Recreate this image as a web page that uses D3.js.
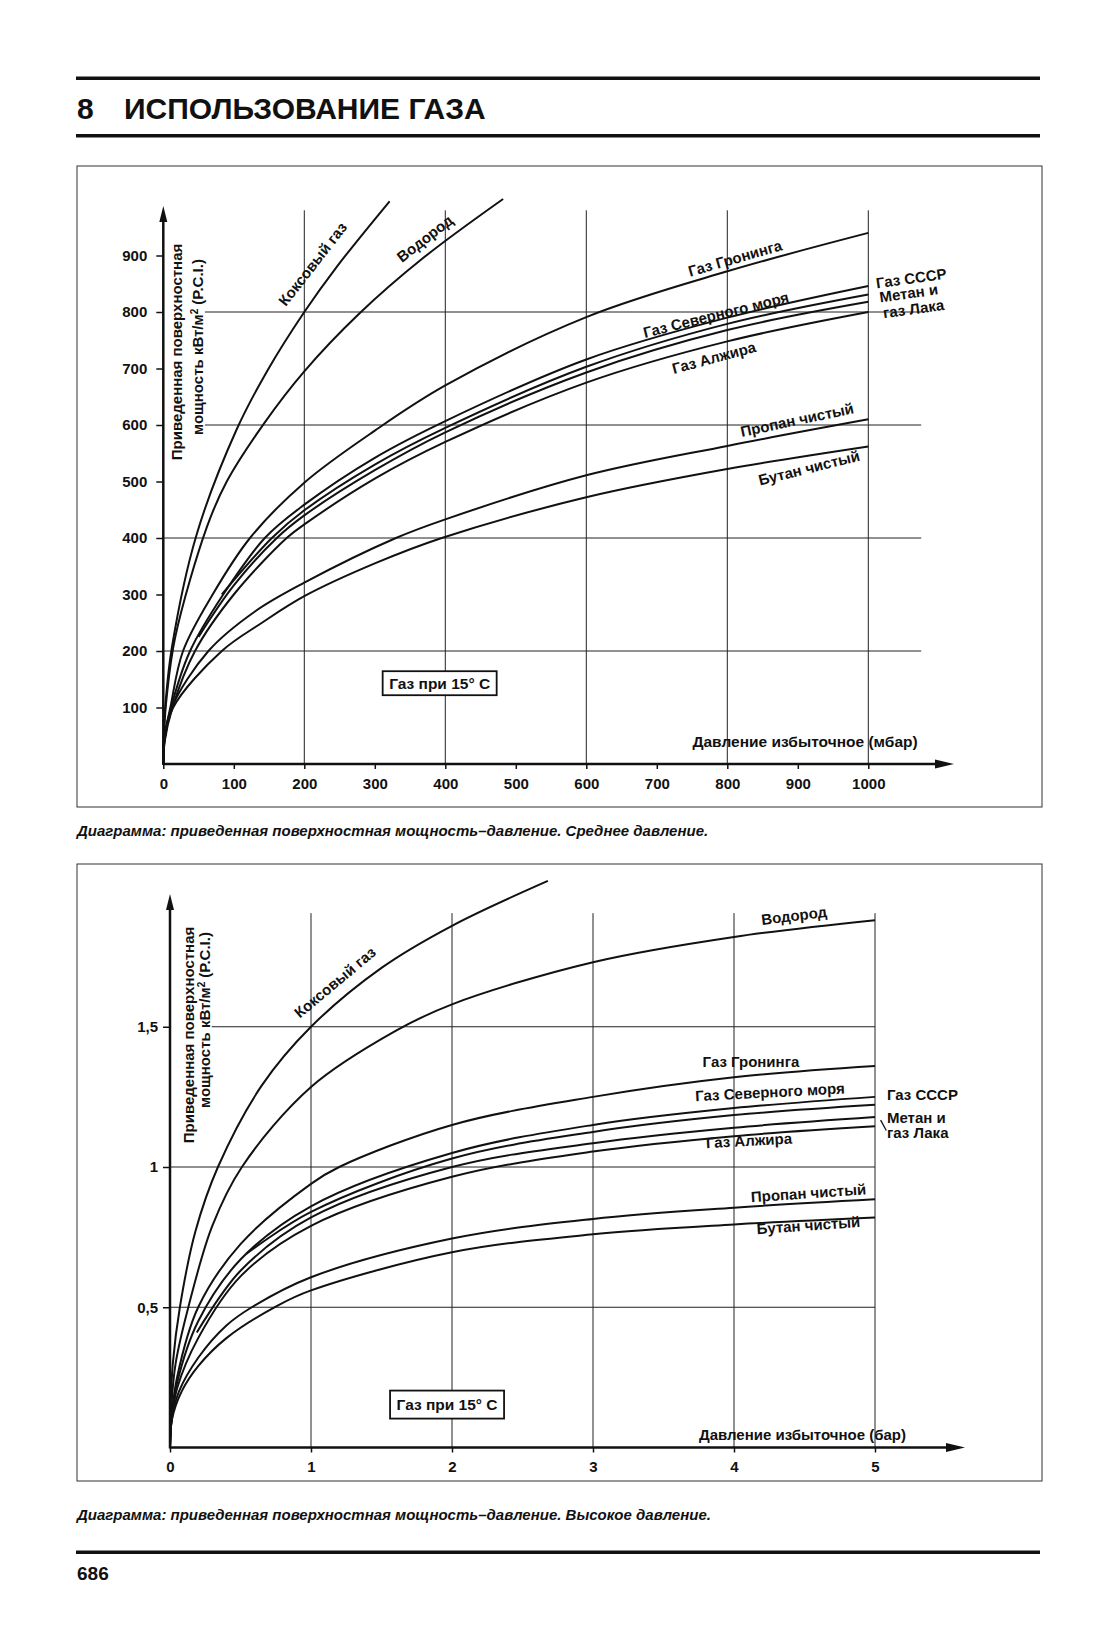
<!DOCTYPE html>
<html>
<head>
<meta charset="UTF-8">
<title>Приведенная поверхностная мощность – давление</title>
<style>
    body { margin: 0; background: #fff; }
    svg { font-family: "Liberation Sans", Arial, sans-serif; }
    .curve { fill: none; stroke: #111; stroke-width: 2px; }
    .grid { stroke: #222; stroke-width: 1px; }
    .box { fill: none; stroke: #333; stroke-width: 1px; }
    .lbl { font-size: 15px; font-weight: bold; fill: #111; }
    .tick text { font-size: 15px; font-weight: bold; fill: #111; font-family: "Liberation Sans", Arial, sans-serif; }
    .tick line { stroke: #111; stroke-width: 1.5px; }
</style>
</head>
<body>
<svg width="1116" height="1644"></svg>
<script src="https://cdn.jsdelivr.net/npm/d3@7"></script>
<script>

    // ---- данные: среднее давление (мбар -> кВт/м2) ----
    var mbarTicks = [0, 100, 200, 300, 400, 500, 600, 700, 800, 900, 1000];
    var mbarGridX = [200, 400, 600, 800, 1000];
    var kwTicks = [100, 200, 300, 400, 500, 600, 700, 800, 900];
    var kwGridY = [200, 400, 600, 800];

    var midCoke = [[0, 0], [1, 62], [3, 105], [12, 205], [47, 405], [104, 592], [148, 697], [200, 800], [246, 880], [321, 996]];
    var midHydrogen = [[0, 0], [1.5, 65], [4.5, 115], [17, 225], [62, 420], [90, 500], [143, 603], [200, 695], [277, 796], [368, 895], [482, 1000]];
    var midGroningen = [[0, 0], [2, 50], [10, 100], [28, 200], [70, 300], [123, 400], [200, 498], [300, 590], [400, 670], [600, 791], [800, 872], [1000, 940]];
    var midUSSR = [[0, 0], [2, 45], [11, 100], [38, 200], [85, 300], [144, 400], [200, 459], [300, 542], [400, 607], [600, 716], [800, 790], [1000, 846]];
    var midNorthSea = [[83, 300], [154, 400], [200, 449], [300, 530], [400, 595], [600, 703], [800, 779], [1000, 831]];
    var midMethane = [[50, 225], [100, 316], [161, 400], [200, 440], [300, 520], [400, 587], [600, 693], [800, 768], [1000, 818]];
    var midAlgeria = [[0, 0], [2, 40], [13, 100], [45, 200], [100, 300], [175, 400], [200, 424], [300, 505], [400, 570], [600, 675], [800, 748], [1000, 800]];
    var midPropane = [[0, 0], [1, 40], [12, 100], [64, 200], [130, 270], [200, 321], [330, 400], [400, 433], [600, 511], [800, 563], [1000, 610]];
    var midButane = [[0, 0], [1.5, 40], [14, 100], [83, 200], [140, 250], [200, 297], [300, 355], [395, 400], [600, 472], [800, 522], [1000, 562]];

    // ---- данные: высокое давление (бар) ----
    var barTicks = [0, 1, 2, 3, 4, 5];
    var barGridX = [1, 2, 3, 4, 5];
    var highTicks = [0.5, 1, 1.5];
    var highTickLabels = ["0,5", "1", "1,5"];
    var highGridY = [0.5, 1, 1.5];

    var highCoke = [[0, 0], [0.005, 0.15], [0.02, 0.3], [0.07, 0.5], [0.18, 0.77], [0.34, 1.0], [0.65, 1.29], [1, 1.5], [1.5, 1.71], [2, 1.86], [2.68, 2.02]];
    var highHydrogen = [[0, 0], [0.01, 0.15], [0.04, 0.3], [0.13, 0.5], [0.3, 0.79], [0.51, 1.0], [1, 1.285], [1.6, 1.485], [2, 1.58], [3, 1.73], [4, 1.82], [5, 1.88]];
    var highGroningen = [[0, 0], [0.01, 0.1], [0.05, 0.25], [0.2, 0.5], [0.5, 0.725], [1, 0.94], [1.2, 1.0], [2, 1.15], [3, 1.25], [4, 1.32], [5, 1.36]];
    var highUSSR = [[0, 0], [0.01, 0.1], [0.05, 0.23], [0.2, 0.45], [0.5, 0.67], [1, 0.86], [2, 1.05], [3, 1.15], [4, 1.21], [5, 1.25]];
    var highNorthSea = [[0.54, 0.69], [1, 0.84], [2, 1.03], [3, 1.125], [4, 1.185], [5, 1.222]];
    var highMethane = [[0.19, 0.41], [0.5, 0.63], [1, 0.82], [2, 1.0], [3, 1.085], [4, 1.14], [5, 1.178]];
    var highAlgeria = [[0, 0], [0.01, 0.09], [0.05, 0.21], [0.2, 0.39], [0.5, 0.61], [1, 0.79], [2, 0.965], [3, 1.055], [4, 1.11], [5, 1.145]];
    var highPropane = [[0, 0], [0.012, 0.1], [0.064, 0.2], [0.2, 0.32], [0.4, 0.435], [0.58, 0.5], [1, 0.607], [2, 0.745], [3, 0.815], [4, 0.855], [5, 0.885]];
    var highButane = [[0, 0], [0.014, 0.1], [0.083, 0.2], [0.2, 0.29], [0.4, 0.39], [0.76, 0.505], [1, 0.56], [2, 0.696], [3, 0.76], [4, 0.795], [5, 0.82]];

    var svg = d3.select("svg");

    // ---- шапка страницы ----
    svg.append("rect").attr("x", 76).attr("y", 76.5).attr("width", 964).attr("height", 3.5).attr("fill", "#111");
    svg.append("rect").attr("x", 76).attr("y", 134).attr("width", 964).attr("height", 3.5).attr("fill", "#111");
    svg.append("text").attr("x", 77).attr("y", 119).attr("font-size", 30).attr("font-weight", "bold").attr("fill", "#111")
        .text("8");
    svg.append("text").attr("x", 124).attr("y", 119).attr("font-size", 30).attr("font-weight", "bold").attr("fill", "#111")
        .text("ИСПОЛЬЗОВАНИЕ ГАЗА");

    function drawPanel(cfg) {
        var g = svg.append("g");
        var x = cfg.x, y = cfg.y;
        var x0 = x(0), y0 = y(0);

        g.append("rect").attr("class", "box")
            .attr("x", cfg.box[0]).attr("y", cfg.box[1]).attr("width", cfg.box[2]).attr("height", cfg.box[3]);

        // сетка
        g.selectAll(".gx").data(cfg.gridX).enter().append("line").attr("class", "grid")
            .attr("x1", function (d) { return x(d); }).attr("x2", function (d) { return x(d); })
            .attr("y1", y(cfg.gridTop)).attr("y2", y0);
        g.selectAll(".gy").data(cfg.gridY).enter().append("line").attr("class", "grid")
            .attr("x1", function (d) { return d >= cfg.gridSkipAbove ? x(cfg.gridLeftHigh) : x0; })
            .attr("x2", x(cfg.gridRight))
            .attr("y1", function (d) { return y(d); }).attr("y2", function (d) { return y(d); });

        // оси
        var ax = g.append("g").attr("transform", "translate(0," + y0 + ")")
            .call(d3.axisBottom(x).tickValues(cfg.xTicks).tickSize(5).tickPadding(9)
                .tickFormat(function (d) { return String(d); }));
        ax.select(".domain").remove();
        var ay = g.append("g").attr("transform", "translate(" + x0 + ",0)")
            .call(d3.axisLeft(y).tickValues(cfg.yTicks).tickSize(7).tickPadding(cfg.yPad)
                .tickFormat(function (d, i) { return cfg.yLabels ? cfg.yLabels[i] : String(d); }));
        ay.select(".domain").remove();

        g.append("line").attr("x1", x0).attr("x2", cfg.xArrow - 16).attr("y1", y0).attr("y2", y0)
            .attr("stroke", "#111").attr("stroke-width", 2.5);
        g.append("path").attr("fill", "#111")
            .attr("d", "M" + cfg.xArrow + "," + y0 + "L" + (cfg.xArrow - 19) + "," + (y0 - 4.5) + "L" + (cfg.xArrow - 19) + "," + (y0 + 4.5) + "Z");
        g.append("line").attr("x1", x0).attr("x2", x0).attr("y1", y0 + 1).attr("y2", cfg.yArrow + 12)
            .attr("stroke", "#111").attr("stroke-width", 2.5);
        g.append("path").attr("fill", "#111")
            .attr("d", "M" + x0 + "," + cfg.yArrow + "L" + (x0 - 4) + "," + (cfg.yArrow + 16) + "L" + (x0 + 4) + "," + (cfg.yArrow + 16) + "Z");

        // кривые
        var line = d3.line()
            .x(function (d) { return x(d[0]); })
            .y(function (d) { return y(d[1]); })
            .curve(d3.curveCatmullRom.alpha(0.5));
        g.selectAll(".curve").data(cfg.series).enter().append("path")
            .attr("class", "curve").attr("d", line);

        // подписи кривых
        cfg.labels.forEach(function (l) {
            g.append("text").attr("class", "lbl")
                .attr("transform", "translate(" + x(l.p) + "," + y(l.v) + ") rotate(" + (l.a || 0) + ")")
                .attr("text-anchor", l.anchor || "middle")
                .attr("dy", "0.35em")
                .text(l.t);
        });

        // подпись оси X
        g.append("text").attr("class", "lbl").attr("text-anchor", "end")
            .attr("x", x(cfg.xTitle.p)).attr("y", y(cfg.xTitle.v))
            .style("font-size", cfg.xTitle.size + "px")
            .text(cfg.xTitle.t);

        // рамка "Газ при 15° С"
        var bx = x(cfg.note.p), by = y(cfg.note.v);
        g.append("rect").attr("x", bx - 57).attr("y", by - cfg.note.h / 2).attr("width", 114).attr("height", cfg.note.h)
            .attr("fill", "#fff").attr("stroke", "#111").attr("stroke-width", 1.8);
        g.append("text").attr("class", "lbl").attr("x", bx).attr("y", by).attr("dy", "0.36em")
            .attr("text-anchor", "middle").style("font-size", "15.5px").text("Газ при 15° С");

        // подпись оси Y (две строки)
        g.append("text").attr("class", "lbl").attr("text-anchor", "middle")
            .attr("transform", "translate(" + cfg.yTitle[0] + "," + cfg.yTitle[1] + ") rotate(-90)")
            .text("Приведенная поверхностная");
        var yt2 = g.append("text").attr("class", "lbl").attr("text-anchor", "middle")
            .attr("transform", "translate(" + cfg.yTitle[2] + "," + cfg.yTitle[3] + ") rotate(-90)");
        yt2.append("tspan").text("мощность кВт/м");
        yt2.append("tspan").attr("baseline-shift", "super").style("font-size", "10px").text("2");
        yt2.append("tspan").text(" (P.C.I.)");

        // подпись под диаграммой
        svg.append("text").attr("x", 77).attr("y", cfg.captionY)
            .attr("font-size", 15).attr("font-weight", "bold").attr("font-style", "italic").attr("fill", "#111")
            .text(cfg.caption);

        return g;
    }

    // ---- верхняя диаграмма: среднее давление ----
    var xMid = d3.scaleLinear().domain([0, 1000]).range([163.3, 868.3]);
    var yMid = d3.scaleLinear().domain([0, 1000]).range([764, 199]);

    drawPanel({
        x: xMid, y: yMid,
        box: [77, 166, 965, 641],
        gridX: mbarGridX, gridY: kwGridY, gridTop: 980, gridRight: 1075, gridSkipAbove: 600, gridLeftHigh: 59,
        xTicks: mbarTicks, yTicks: kwTicks, yPad: 9,
        xArrow: 954, yArrow: 206,
        series: [midCoke, midHydrogen, midGroningen, midUSSR, midNorthSea, midMethane, midAlgeria, midPropane, midButane],
        labels: [
            {t: "Коксовый газ", p: 212, v: 885, a: -52},
            {t: "Водород", p: 371, v: 930, a: -38},
            {t: "Газ Гронинга", p: 811, v: 895, a: -16},
            {t: "Газ Северного моря", p: 784, v: 795, a: -14},
            {t: "Газ Алжира", p: 781, v: 719, a: -15},
            {t: "Пропан чистый", p: 899, v: 609, a: -12},
            {t: "Бутан чистый", p: 916, v: 524, a: -14},
            {t: "Газ СССР", p: 1011, v: 851, a: -8, anchor: "start"},
            {t: "Метан и", p: 1016, v: 826, a: -8, anchor: "start"},
            {t: "газ Лака", p: 1021, v: 798, a: -8, anchor: "start"}
        ],
        xTitle: {t: "Давление избыточное (мбар)", p: 1070, v: 30, size: 15.5},
        note: {p: 392, v: 143, h: 24},
        yTitle: [182, 352, 203, 347],
        captionY: 836,
        caption: "Диаграмма: приведенная поверхностная мощность–давление. Среднее давление."
    });

    // ---- нижняя диаграмма: высокое давление ----
    var xHigh = d3.scaleLinear().domain([0, 5]).range([170, 875]);
    var yHigh = d3.scaleLinear().domain([0, 2]).range([1447.5, 886.5]);

    var gHigh = drawPanel({
        x: xHigh, y: yHigh,
        box: [77, 864, 965, 617],
        gridX: barGridX, gridY: highGridY, gridTop: 1.905, gridRight: 5, gridSkipAbove: 1.5, gridLeftHigh: 0.296,
        xTicks: barTicks, yTicks: highTicks, yLabels: highTickLabels, yPad: 5,
        xArrow: 965, yArrow: 894,
        series: [highCoke, highHydrogen, highGroningen, highUSSR, highNorthSea, highMethane, highAlgeria, highPropane, highButane],
        labels: [
            {t: "Коксовый газ", p: 1.17, v: 1.658, a: -40},
            {t: "Водород", p: 4.426, v: 1.896, a: -7},
            {t: "Газ Гронинга", p: 4.12, v: 1.376, a: 0},
            {t: "Газ Северного моря", p: 4.255, v: 1.267, a: -3},
            {t: "Газ Алжира", p: 4.106, v: 1.094, a: -3},
            {t: "Пропан чистый", p: 4.528, v: 0.907, a: -4},
            {t: "Бутан чистый", p: 4.528, v: 0.792, a: -4},
            {t: "Газ СССР", p: 5.085, v: 1.256, a: 0, anchor: "start"},
            {t: "Метан и", p: 5.085, v: 1.175, a: 0, anchor: "start"},
            {t: "газ Лака", p: 5.085, v: 1.121, a: 0, anchor: "start"}
        ],
        xTitle: {t: "Давление избыточное (бар)", p: 5.22, v: 0.027, size: 15},
        note: {p: 1.965, v: 0.153, h: 28},
        yTitle: [194, 1035, 210, 1020],
        captionY: 1520,
        caption: "Диаграмма: приведенная поверхностная мощность–давление. Высокое давление."
    });

    // выноска к "Метан и газ Лака"
    gHigh.append("line").attr("stroke", "#111").attr("stroke-width", 1.3)
        .attr("x1", xHigh(5.04)).attr("y1", yHigh(1.167)).attr("x2", xHigh(5.08)).attr("y2", yHigh(1.13));

    // ---- низ страницы ----
    svg.append("rect").attr("x", 76).attr("y", 1550.5).attr("width", 964).attr("height", 3.5).attr("fill", "#111");
    svg.append("text").attr("x", 77).attr("y", 1580).attr("font-size", 19).attr("font-weight", "bold").attr("fill", "#111")
        .text("686");

</script>
</body>
</html>
